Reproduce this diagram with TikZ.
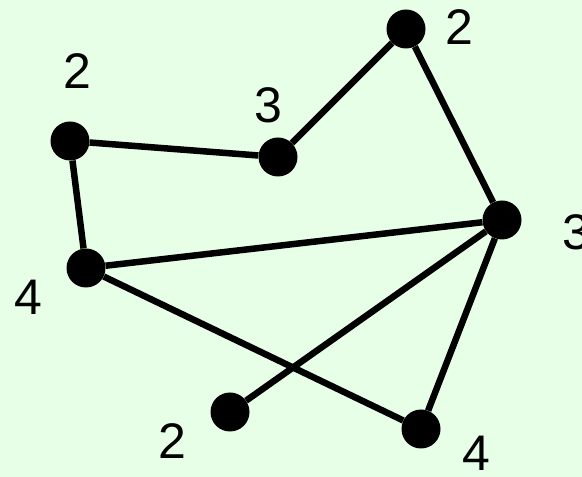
\documentclass[tikz,border=0pt]{standalone}
\usepackage{fontspec}
\setmainfont{Liberation Sans}
\definecolor{bg}{RGB}{230,255,230}
\begin{document}
\begin{tikzpicture}[x=1pt,y=1pt,
  vtx/.style={circle,fill=black,inner sep=0pt,minimum size=39pt},
  lbl/.style={inner sep=0pt,font=\fontsize{50}{60}\selectfont},
  edge/.style={line width=6.5pt}]
\fill[bg] (0,0) rectangle (582,477);
\useasboundingbox (0,0) rectangle (582,477);
\node[vtx] (A) at (70,336) {};
\node[vtx] (B) at (278,320) {};
\node[vtx] (C) at (406,448) {};
\node[vtx] (D) at (502,257) {};
\node[vtx] (E) at (86,209) {};
\node[vtx] (F) at (230,65) {};
\node[vtx] (G) at (421,48) {};
\draw[edge] (A) -- (B);
\draw[edge] (B) -- (C);
\draw[edge] (C) -- (D);
\draw[edge] (A) -- (E);
\draw[edge] (E) -- (D);
\draw[edge] (E) -- (G);
\draw[edge] (D) -- (F);
\draw[edge] (D) -- (G);
\node[lbl] (la) at (77,406) {2};
\node[lbl] (lb) at (268,372) {3};
\node[lbl] (lc) at (459,450) {2};
\node[lbl] (ld) at (576,245) {3};
\node[lbl] (le) at (28,180) {4};
\node[lbl] (lf) at (172,36) {2};
\node[lbl] (lg) at (476,24) {4};
\end{tikzpicture}
\end{document}
